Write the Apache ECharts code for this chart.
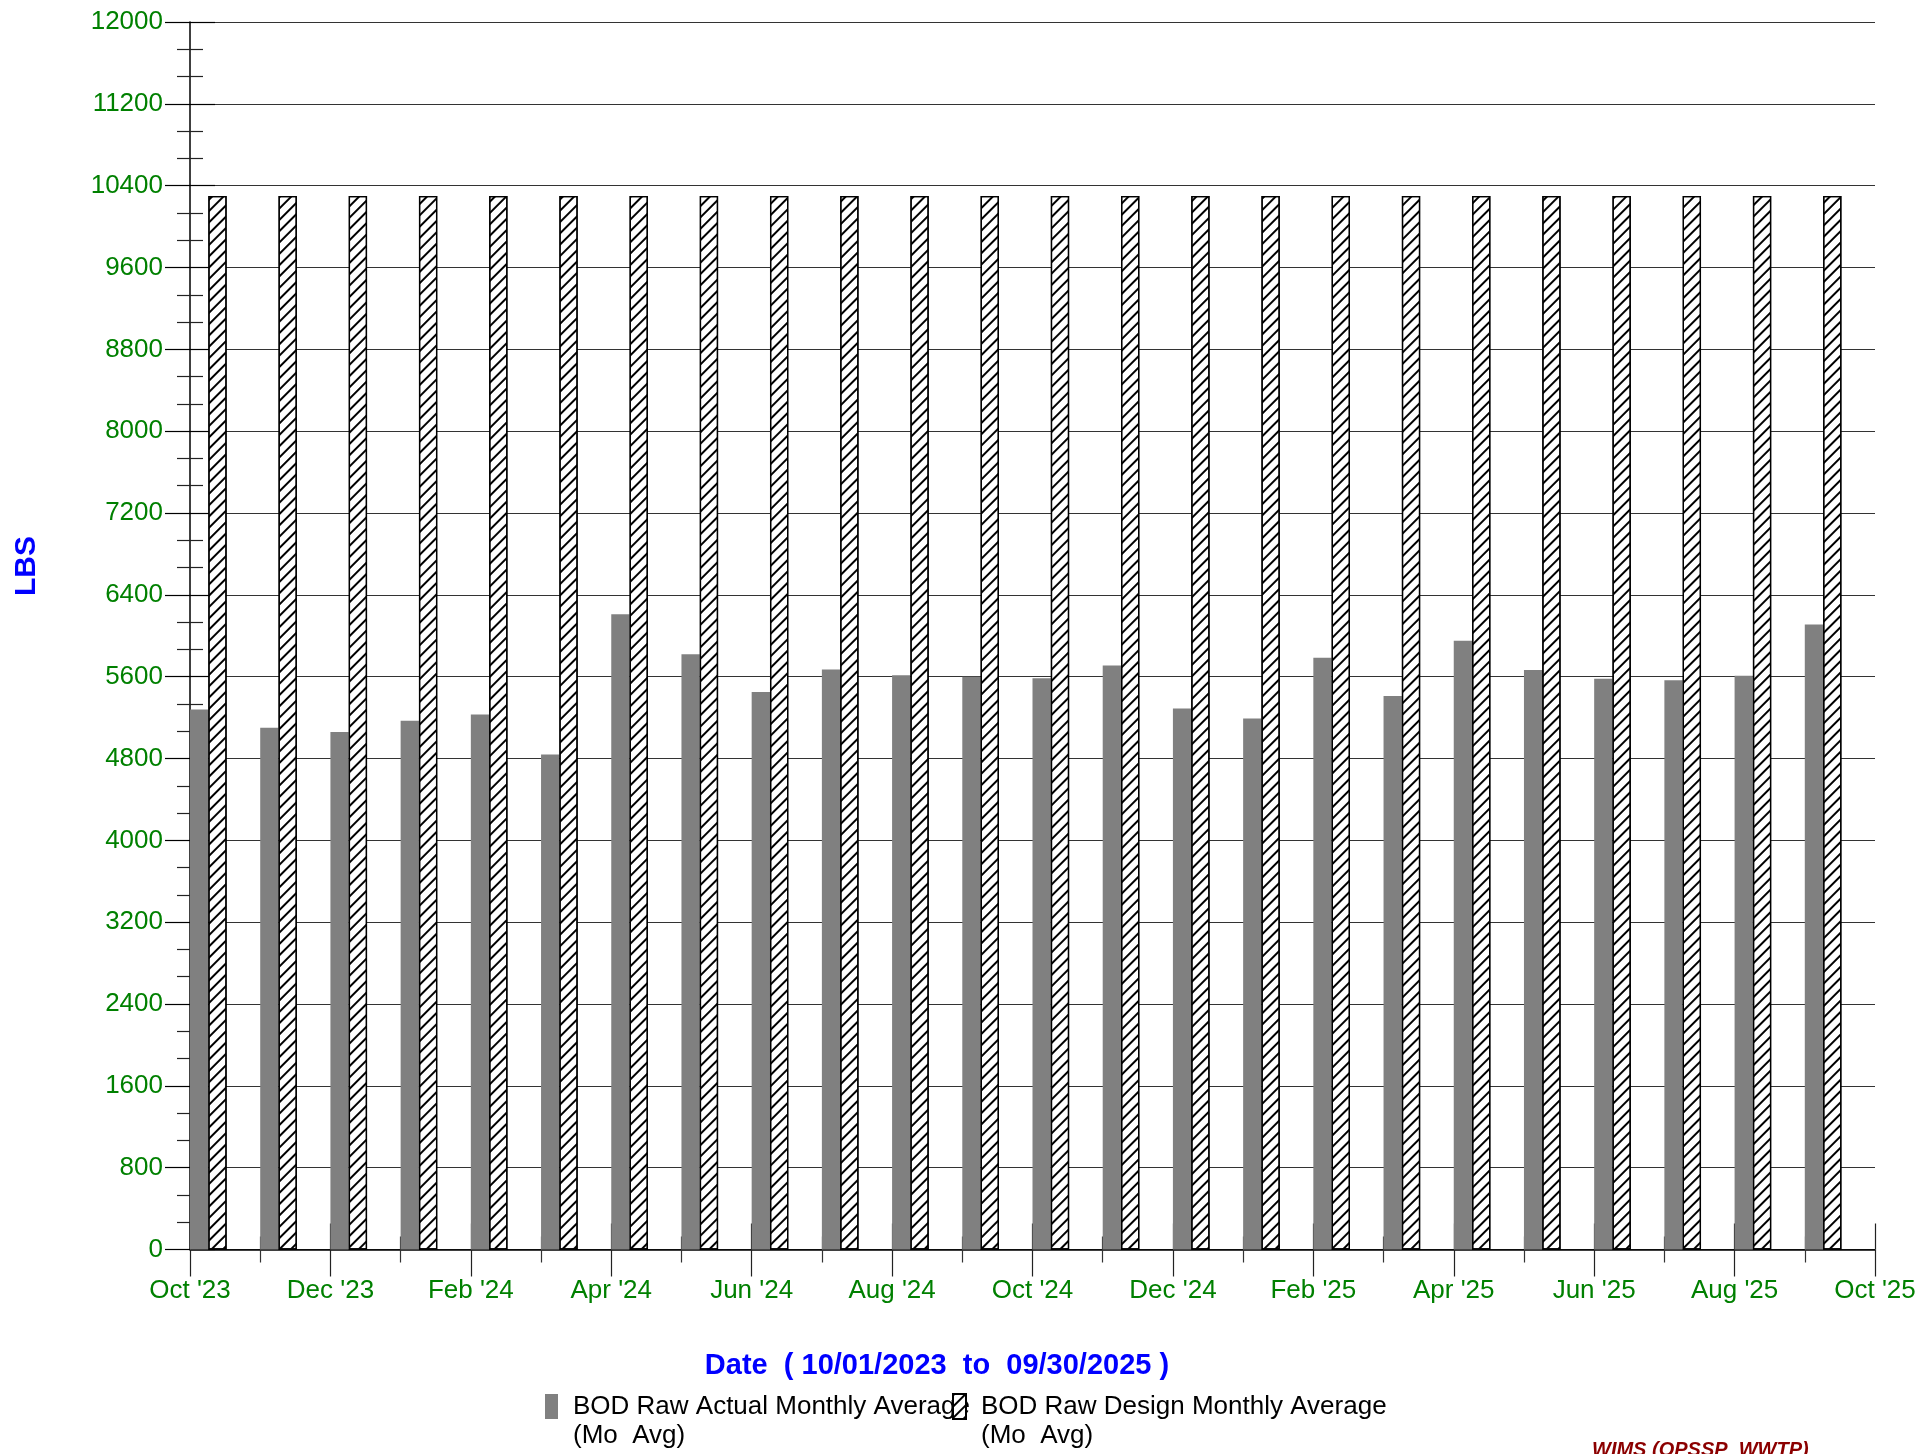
<!DOCTYPE html>
<html>
<head>
<meta charset="utf-8">
<script src="https://cdn.jsdelivr.net/npm/echarts@6/dist/echarts.min.js"></script>
<style>
html,body{margin:0;padding:0;background:#fff;}
#chart{width:1923px;height:1454px;}
</style>
</head>
<body>
<div id="chart"></div>
<script>
// ---- data ----
var months = ["Oct '23","Nov '23","Dec '23","Jan '24","Feb '24","Mar '24","Apr '24","May '24","Jun '24","Jul '24","Aug '24","Sep '24",
              "Oct '24","Nov '24","Dec '24","Jan '25","Feb '25","Mar '25","Apr '25","May '25","Jun '25","Jul '25","Aug '25","Sep '25"];
var actualValues = [5280,5100,5060,5170,5230,4840,6210,5820,5450,5670,5615,5600,
                    5585,5710,5290,5190,5785,5410,5950,5665,5580,5565,5610,6110];
var designValues = [10300,10300,10300,10300,10300,10300,10300,10300,10300,10300,10300,10300,
                    10300,10300,10300,10300,10300,10300,10300,10300,10300,10300,10300,10300];
var xTickLabels = ["Oct '23","Dec '23","Feb '24","Apr '24","Jun '24","Aug '24","Oct '24","Dec '24","Feb '25","Apr '25","Jun '25","Aug '25","Oct '25"];
var actualName = 'BOD Raw Actual Monthly Average';
var designName = 'BOD Raw Design Monthly Average';
var legendSub = '(Mo  Avg)';
var xTitle = 'Date  ( 10/01/2023  to  09/30/2025 )';
var yTitle = 'LBS';
var footer = 'WIMS (OPSSP  WWTP)';

var FONT = '"Liberation Sans", Arial, Helvetica, sans-serif';
var GREEN = '#008000';

var chart = echarts.init(document.getElementById('chart'));
var hatch = {
  symbol: 'rect', symbolSize: 1,
  dashArrayX: [1, 0], dashArrayY: [1.4, 5.6],
  rotation: -Math.PI / 4, color: '#000'
};
var legendText = {
  fontFamily: FONT, fontSize: 26, color: '#000', lineHeight: 29,
  padding: [0, 0, 0, 10]
};
function legendFmt(n) { return '\u00a0\n' + n + '\n' + legendSub; }
var option = {
  animation: false,
  backgroundColor: '#fff',
  grid: { left: 190, right: 48, top: 22, bottom: 204.5, containLabel: false },
  xAxis: [
    { type: 'category', data: months, position: 'bottom', show: false, boundaryGap: true },
    { type: 'value', position: 'bottom', min: 0, max: 24, interval: 2,
      axisLine: { show: true, onZero: false, lineStyle: { color: '#000', width: 1.5 } },
      axisTick: { show: true, inside: false, length: 27, lineStyle: { color: '#222', width: 1.2 } },
      minorTick: { show: true, splitNumber: 2, length: 13, lineStyle: { color: '#333', width: 1.2 } },
      splitLine: { show: false }, minorSplitLine: { show: false },
      axisLabel: { show: true, margin: 28, color: GREEN, fontFamily: FONT, fontSize: 26,
        showMinLabel: true, showMaxLabel: true,
        formatter: function (v) { return xTickLabels[Math.round(v / 2)]; } } },
    { type: 'value', position: 'bottom', min: 0, max: 24, interval: 2,
      axisLine: { show: false, onZero: false },
      axisTick: { show: true, inside: true, length: 26, lineStyle: { color: '#222', width: 1.2 } },
      minorTick: { show: true, splitNumber: 2, length: 13, lineStyle: { color: '#333', width: 1.2 } },
      splitLine: { show: false }, axisLabel: { show: false } }
  ],
  yAxis: [
    { type: 'value', position: 'left', min: 0, max: 12000, interval: 800,
      axisLine: { show: true, onZero: false, lineStyle: { color: '#000', width: 1.5 } },
      axisTick: { show: true, inside: false, length: 25, lineStyle: { color: '#000', width: 1.2 } },
      minorTick: { show: true, splitNumber: 3, length: 13, lineStyle: { color: '#222', width: 1.2 } },
      splitLine: { show: true, lineStyle: { color: '#333', width: 1.2 } },
      axisLabel: { margin: 27, color: GREEN, fontFamily: FONT, fontSize: 26,
        formatter: function (v) { return String(v); } } },
    { type: 'value', position: 'left', min: 0, max: 12000, interval: 800,
      axisLine: { show: false, onZero: false },
      axisTick: { show: true, inside: true, length: 25, lineStyle: { color: '#000', width: 1.2 } },
      minorTick: { show: true, splitNumber: 3, length: 13, lineStyle: { color: '#222', width: 1.2 } },
      splitLine: { show: false }, axisLabel: { show: false } }
  ],
  legend: [
    { data: [actualName], left: 545, top: 1363, padding: 0, selectedMode: false,
      icon: 'rect', itemWidth: 13, itemHeight: 25,
      formatter: legendFmt, textStyle: legendText },
    { data: [designName], left: 952, top: 1363, padding: 0, selectedMode: false,
      icon: 'rect', itemWidth: 13, itemHeight: 25,
      formatter: legendFmt, textStyle: legendText }
  ],
  graphic: [
    { type: 'text', x: 937, y: 1366,
      style: { text: xTitle, fill: '#0000ff', font: 'bold 29px ' + FONT, textAlign: 'center', textVerticalAlign: 'middle' } },
    { type: 'text', x: 27, y: 566, rotation: Math.PI / 2,
      style: { text: yTitle, fill: '#0000ff', font: 'bold 30px ' + FONT, textAlign: 'center', textVerticalAlign: 'middle' } },
    { type: 'text', x: 1592, y: 1440,
      style: { text: footer, fill: '#8b0000', font: 'italic bold 20px ' + FONT, textAlign: 'left', textVerticalAlign: 'top' } }
  ],
  series: [
    { name: actualName, type: 'bar', xAxisIndex: 0, yAxisIndex: 0, data: actualValues,
      barWidth: '26.1%', barGap: '0%',
      itemStyle: { color: '#808080' } },
    { name: designName, type: 'bar', xAxisIndex: 0, yAxisIndex: 0, data: designValues,
      barWidth: '26.1%', barGap: '0%',
      itemStyle: { color: '#fff', borderColor: '#000', borderWidth: 1.3, decal: hatch } },
    { name: 'spacer', type: 'bar', xAxisIndex: 0, yAxisIndex: 0,
      data: months.map(function () { return '-'; }),
      barWidth: '47.8%', barGap: '0%', silent: true, itemStyle: { color: 'transparent' } }
  ]
};
chart.setOption(option);
</script>
</body>
</html>
